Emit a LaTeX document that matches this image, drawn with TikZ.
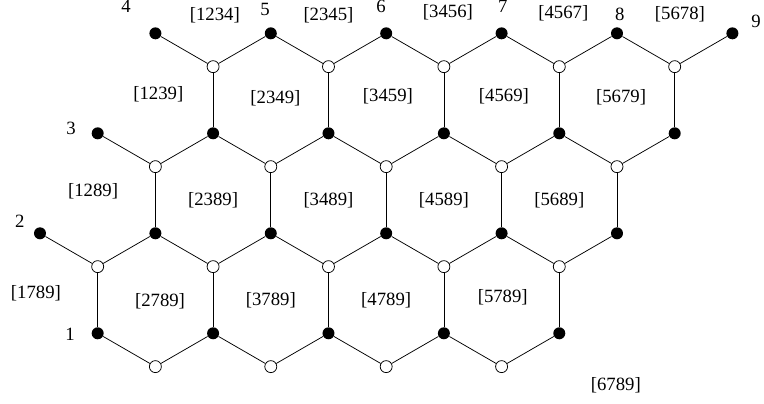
\documentclass[tikz,border=0pt]{standalone}
\usepackage{fontspec}
\setmainfont{Liberation Serif}

\begin{document}
\begin{tikzpicture}[x=1.082cm, y=0.625cm,
    negro/.style={circle, fill=black, inner sep=0pt, minimum size=6.4pt},
    blanco/.style={circle, draw, thin, fill=white, inner sep=0pt, minimum size=6.4pt},
    cara/.style={inner sep=1pt}]
    \useasboundingbox (-0.693,1) rectangle (12.548,-11.1);
    				% vertices negros
    				\node [negro] (A1) at (2,0) {};
    				\node [negro] (A2) at (4,0) {};
    				\node [negro] (A3) at (6,0) {};
    				\node [negro] (A4) at (8,0) {};
    				\node [negro] (A5) at (10,0) {};
    				\node [negro] (A6) at (12,0) {};
    				\node [negro] (B1) at (1,-3) {};
    				\node [negro] (B2) at (3,-3) {};
    				\node [negro] (B3) at (5,-3) {};
    				\node [negro] (B4) at (7,-3) {};
    				\node [negro] (B5) at (9,-3) {};
    				\node [negro] (B6) at (11,-3) {};
    				\node [negro] (C1) at (0,-6) {};
    				\node [negro] (C2) at (2,-6) {};
    				\node [negro] (C3) at (4,-6) {};
    				\node [negro] (C4) at (6,-6) {};
    				\node [negro] (C5) at (8,-6) {};
    				\node [negro] (C6) at (10,-6) {};
    				\node [negro] (D1) at (1,-9) {};
    				\node [negro] (D2) at (3,-9) {};
    				\node [negro] (D3) at (5,-9) {};
    				\node [negro] (D4) at (7,-9) {};
    				\node [negro] (D5) at (9,-9) {};
    				
    				% vertices blancos
    				\node [blanco] (a1) at (3,-1) {};
    				\node [blanco] (a2) at (5,-1) {};
    				\node [blanco] (a3) at (7,-1) {};
    				\node [blanco] (a4) at (9,-1) {};
    				\node [blanco] (a5) at (11,-1) {};
    				\node [blanco] (b1) at (2,-4) {};
    				\node [blanco] (b2) at (4,-4) {};
    				\node [blanco] (b3) at (6,-4) {};
    				\node [blanco] (b4) at (8,-4) {};
    				\node [blanco] (b5) at (10,-4) {};
    				\node [blanco] (c1) at (1,-7) {};
    				\node [blanco] (c2) at (3,-7) {};
    				\node [blanco] (c3) at (5,-7) {};
    				\node [blanco] (c4) at (7,-7) {};
    				\node [blanco] (c5) at (9,-7) {};
    				\node [blanco] (d1) at (2,-10) {};
    				\node [blanco] (d2) at (4,-10) {};
    				\node [blanco] (d3) at (6,-10) {};
    				\node [blanco] (d4) at (8,-10) {};
    				
    				% aristas
    				\path[draw, thin]
    				(A1) edge (a1)
    				(A2) edge (a1) (A2) edge (a2)
    				(A3) edge (a2) (A3) edge (a3)
    				(A4) edge (a3) (A4) edge (a4)
    				(A5) edge (a4) (A5) edge (a5)
    				(A6) edge (a5)
    				(a1) edge (B2) (a2) edge (B3) (a3) edge (B4)
    				(a4) edge (B5) (a5) edge (B6)
    				(B1) edge (b1)
    				(B2) edge (b1) (B2) edge (b2)
    				(B3) edge (b2) (B3) edge (b3)
    				(B4) edge (b3) (B4) edge (b4)
    				(B5) edge (b4) (B5) edge (b5)
    				(B6) edge (b5)
    				(b1) edge (C2) (b2) edge (C3) (b3) edge (C4)
    				(b4) edge (C5) (b5) edge (C6)
    				(C1) edge (c1)
    				(C2) edge (c1) (C2) edge (c2)
    				(C3) edge (c2) (C3) edge (c3)
    				(C4) edge (c3) (C4) edge (c4)
    				(C5) edge (c4) (C5) edge (c5)
    				(C6) edge (c5)
    				(c1) edge (D1) (c2) edge (D2) (c3) edge (D3)
    				(c4) edge (D4) (c5) edge (D5)
    				(D1) edge (d1)
    				(D2) edge (d1) (D2) edge (d2)
    				(D3) edge (d2) (D3) edge (d3)
    				(D4) edge (d3) (D4) edge (d4)
    				(D5) edge (d4);
    				
    				% numeros
    				\node (n1) at (0.52,-9.03) {1};
    				\node (n2) at (-0.35,-5.64) {2};
    				\node (n3) at (0.54,-2.84) {3};
    				\node (n4) at (1.49,0.82) {4};
    				\node (n5) at (3.9,0.73) {5};
    				\node (n6) at (5.91,0.82) {6};
    				\node (n7) at (8.02,0.82) {7};
    				\node (n8) at (10.05,0.58) {8};
    				\node (n9) at (12.41,0.37) {9};
    				
    				% caras
    				\node [cara] (f1234) at (3.03,0.55) {[1234]};
    				\node [cara] (f2345) at (5,0.55) {[2345]};
    				\node [cara] (f3456) at (7.07,0.62) {[3456]};
    				\node [cara] (f4567) at (9.07,0.6) {[4567]};
    				\node [cara] (f5678) at (11.09,0.58) {[5678]};
    				\node [cara] (f1239) at (2.05,-1.83) {[1239]};
    				\node [cara] (f2349) at (4.08,-1.94) {[2349]};
    				\node [cara] (f3459) at (6.03,-1.9) {[3459]};
    				\node [cara] (f4569) at (8.04,-1.88) {[4569]};
    				\node [cara] (f5679) at (10.07,-1.92) {[5679]};
    				\node [cara] (f1289) at (0.92,-4.73) {[1289]};
    				\node [cara] (f2389) at (3,-5) {[2389]};
    				\node [cara] (f3489) at (5,-5) {[3489]};
    				\node [cara] (f4589) at (7,-5) {[4589]};
    				\node [cara] (f5689) at (9,-5) {[5689]};
    				\node [cara] (f1789) at (-0.07,-7.8) {[1789]};
    				\node [cara] (f2789) at (2.08,-8.04) {[2789]};
    				\node [cara] (f3789) at (4,-8) {[3789]};
    				\node [cara] (f4789) at (6,-8) {[4789]};
    				\node [cara] (f5789) at (8.02,-7.92) {[5789]};
    				\node [cara] (f6789) at (9.98,-10.56) {[6789]};
\end{tikzpicture}
\end{document}
